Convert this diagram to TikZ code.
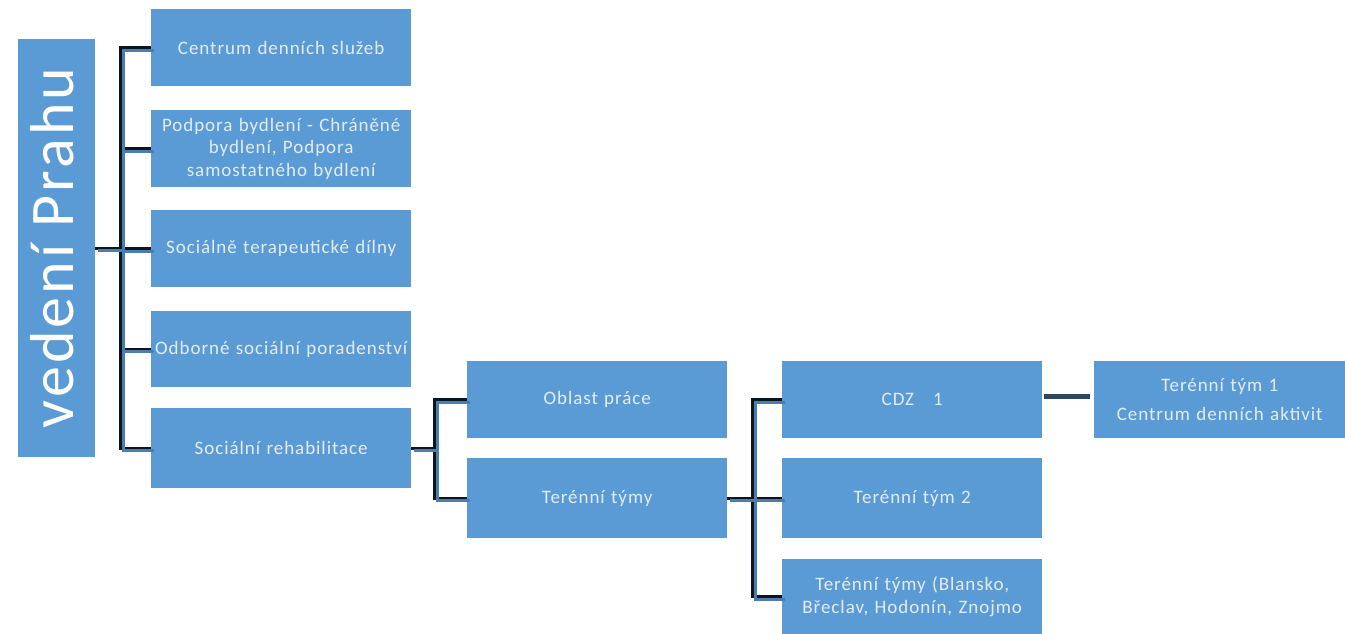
\documentclass[tikz,border=0pt]{standalone}
\usepackage{fontspec}
\setmainfont{Carlito}[LetterSpace=5]
\definecolor{boxblue}{HTML}{5B9BD5}
\definecolor{txt}{HTML}{E2ECF7}
\definecolor{dk}{HTML}{0B1520}
\definecolor{lb}{HTML}{4A7DB0}
\definecolor{slate}{HTML}{2B4763}
\begin{document}
\begin{tikzpicture}[x=1pt,y=1pt,
  box/.style={fill=boxblue, draw=none, anchor=north west, text=txt, align=center,
    font=\fontsize{19}{22.5}\selectfont, inner xsep=2pt, inner ysep=0pt, text width=256pt},
  dline/.style={draw=dk, line width=3pt},
  bline/.style={draw=lb, line width=3pt},
  shiftb/.style={transform canvas={xshift=3pt,yshift=-2.5pt}},
]
\useasboundingbox (0,0) rectangle (1345,-634);

% root
\node[fill=boxblue, rotate=90, minimum width=418pt, minimum height=77pt, inner sep=0pt,
  text=white, font=\fontsize{62}{62}\selectfont, text height=33pt, text depth=0pt]
  (root) at (56.5,-248) {vedení Prahu};

% column 1
\node[box, minimum height=77pt] (c1) at (151,-9) {Centrum denních služeb};
\node[box, minimum height=77pt] (c2) at (151,-110) {Podpora bydlení - Chráněné\\bydlení, Podpora\\samostatného bydlení};
\node[box, minimum height=77pt] (c3) at (151,-210) {Sociálně terapeutické dílny};
\node[box, minimum height=76pt] (c4) at (151,-311) {Odborné sociální poradenství};
\node[box, minimum height=80pt] (c5) at (151,-408) {Sociální rehabilitace};

% column 2
\node[box, minimum height=77pt] (o1) at (467,-361) {Oblast práce};
\node[box, minimum height=80pt] (o2) at (467,-458) {Terénní týmy};

% column 3
\node[box, minimum height=77pt] (d1) at (782,-361) {CDZ\ \ \ 1};
\node[box, minimum height=80pt] (d2) at (782,-458) {Terénní tým 2};
\node[box, minimum height=75pt] (d3) at (782,-559) {Terénní týmy (Blansko,\\Břeclav, Hodonín, Znojmo};

% column 4
\node[box, minimum height=77pt, text width=247pt] (e1) at (1094,-361) {Terénní tým 1\\[7pt]Centrum denních aktivit};

% connectors: dark strokes
\foreach \c in {c1,c2,c3,c4,c5}
  \draw[dline] (root.south) -- ++(25.5,0) |- (\c.west);
\foreach \c in {o1,o2}
  \draw[dline] (c5.east) -- ++(23.5,0) |- (\c.west);
\foreach \c in {d1,d2,d3}
  \draw[dline] (o2.east) -- ++(25,0) |- (\c.west);

% connectors: blue strokes
\begin{scope}[shiftb]
\foreach \c in {c1,c2,c3,c4,c5}
  \draw[bline] (root.south) -- ++(25.5,0) |- (\c.west);
\foreach \c in {o1,o2}
  \draw[bline] (c5.east) -- ++(23.5,0) |- (\c.west);
\foreach \c in {d1,d2,d3}
  \draw[bline] (o2.east) -- ++(25,0) |- (\c.west);
\end{scope}

\draw[slate, line width=5pt, shorten <=2pt, shorten >=4pt] ([yshift=3pt]d1.east) -- ([yshift=3pt]e1.west);
\end{tikzpicture}
\end{document}
